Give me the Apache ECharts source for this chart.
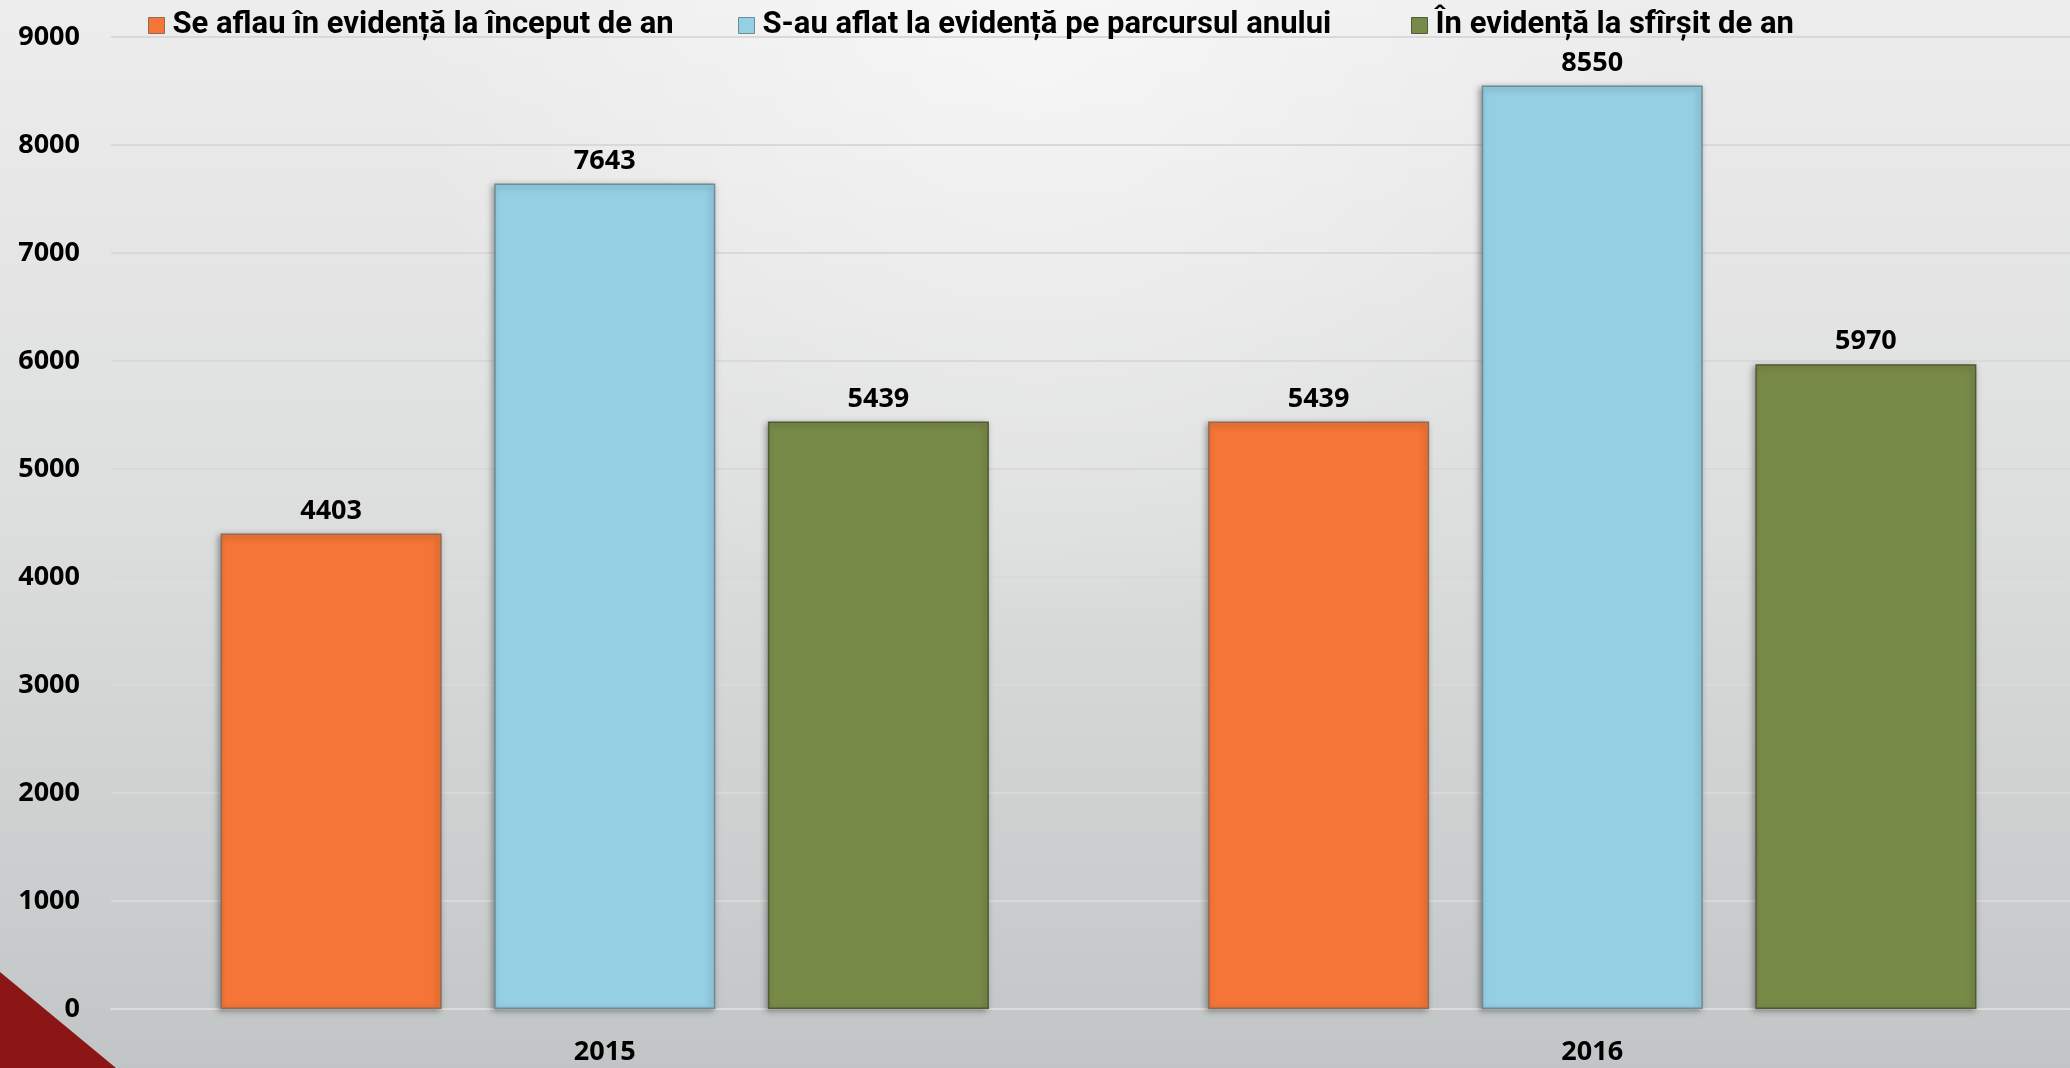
<!DOCTYPE html>
<html>
<head>
<meta charset="utf-8">
<script src="https://cdn.jsdelivr.net/npm/echarts@6/dist/echarts.min.js"></script>
<style>html,body{margin:0;padding:0;}#c{width:2070px;height:1068px;}</style>
</head>
<body>
<div id="c"></div>
<script>
const categories = ['2015', '2016'];
const seriesNames = ['Se aflau în evidență la început de an', 'S-au aflat la evidență pe parcursul anului', 'În evidență la sfîrșit de an'];
const startOfYear = [4403, 5439];
const duringYear = [7643, 8550];
const endOfYear = [5439, 5970];
const yTicks = [0, 1000, 2000, 3000, 4000, 5000, 6000, 7000, 8000, 9000];

const colors = ['#f47535', '#94cfe3', '#788a48'];
const borders = ['#8f6a58', '#6f8c96', '#4f5a38'];
const legendLeft = [148, 738, 1411];
const numFont = "'Open Sans', sans-serif";
const legFont = "Roboto, sans-serif";

const chart = echarts.init(document.getElementById('c'));
const dataArr = [startOfYear, duringYear, endOfYear];

chart.setOption({
  animation: false,
  graphic: [
    {type: 'rect', z: -100, silent: true, shape: {x: 0, y: 0, width: 2070, height: 1068},
     style: {fill: new echarts.graphic.LinearGradient(0, 0, 0, 1, [
       {offset: 0, color: '#ededed'}, {offset: 0.5, color: '#dcdddd'}, {offset: 1, color: '#c2c5c6'}])}},
    {type: 'rect', z: -99, silent: true, shape: {x: 0, y: 0, width: 2070, height: 1068},
     style: {fill: new echarts.graphic.RadialGradient(0.5, 0, 0.6, [
       {offset: 0, color: 'rgba(255,255,255,0.55)'}, {offset: 1, color: 'rgba(255,255,255,0)'}])}},
    {type: 'polygon', z: 100, silent: true, shape: {points: [[0, 972], [0, 1068], [116, 1068]]},
     style: {fill: '#8c1515'}}
  ],
  legend: seriesNames.map((n, i) => ({
    data: [n], left: legendLeft[i], top: 10, padding: 0, itemWidth: 16, itemHeight: 16, icon: 'rect',
    itemStyle: {borderColor: borders[i], borderWidth: 1},
    textStyle: {fontFamily: legFont, fontWeight: 'bold', fontSize: 31, color: '#000', padding: [0, 0, 0, 3]}
  })),
  grid: {left: 111, top: 37, width: 1975, bottom: 59, containLabel: false, outerBoundsMode: 'none'},
  xAxis: {
    type: 'category', data: categories,
    axisTick: {show: false},
    axisLine: {lineStyle: {color: '#dcdcdc', width: 2}},
    axisLabel: {fontFamily: numFont, fontWeight: 'bold', fontSize: 27, color: '#000', margin: 30}
  },
  yAxis: {
    type: 'value', min: 0, max: 9000, interval: 1000,
    axisLine: {show: false}, axisTick: {show: false},
    splitLine: {lineStyle: {color: '#d9d9d9', width: 2}},
    axisLabel: {fontFamily: numFont, fontWeight: 'bold', fontSize: 27, color: '#000', margin: 31,
      formatter: v => yTicks.includes(v) ? String(v) : ''}
  },
  series: seriesNames.map((n, i) => ({
    name: n, type: 'bar', data: dataArr[i],
    barGap: '23.8%', barCategoryGap: '22.2%',
    itemStyle: {color: colors[i], borderColor: borders[i], borderWidth: 1.5,
      shadowColor: 'rgba(0,0,0,0.35)', shadowBlur: 6, shadowOffsetX: -2, shadowOffsetY: 2},
    label: {show: true, position: 'top', distance: 9, fontFamily: numFont, fontWeight: 'bold',
      fontSize: 27, color: '#000'}
  }))
});
</script>
</body>
</html>
